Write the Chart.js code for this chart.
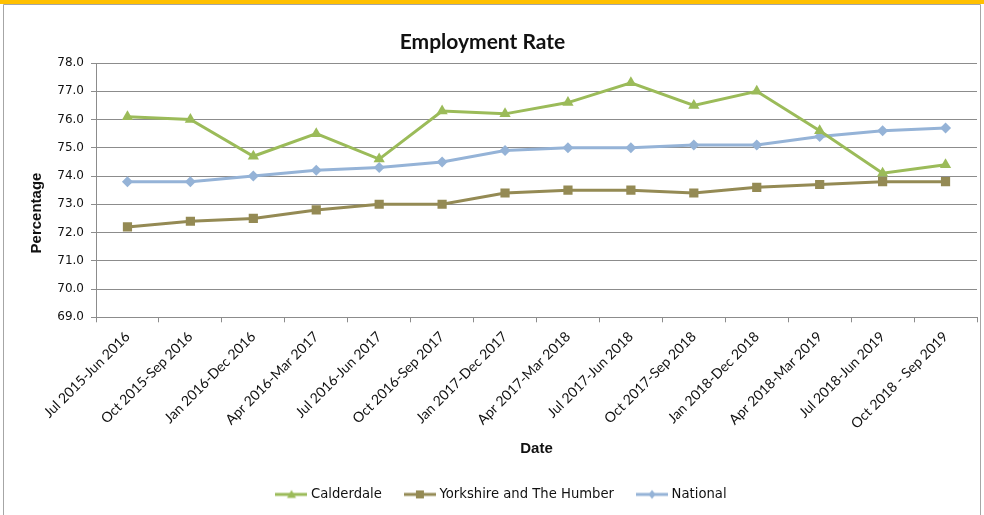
<!DOCTYPE html>
<html>
<head>
<meta charset="utf-8">
<script src="https://cdn.jsdelivr.net/npm/chart.js@4.4.1/dist/chart.umd.min.js"></script>
<style>
  html, body { margin:0; padding:0; background:#fff; }
  #wrap { width:984px; height:515px; position:relative; }
</style>
</head>
<body>
<div id="wrap"><canvas id="chart"></canvas></div>
<script>
// ── data ──────────────────────────────────────────────
const periods = [
  'Jul 2015-Jun 2016', 'Oct 2015-Sep 2016', 'Jan 2016-Dec 2016', 'Apr 2016-Mar 2017',
  'Jul 2016-Jun 2017', 'Oct 2016-Sep 2017', 'Jan 2017-Dec 2017', 'Apr 2017-Mar 2018',
  'Jul 2017-Jun 2018', 'Oct 2017-Sep 2018', 'Jan 2018-Dec 2018', 'Apr 2018-Mar 2019',
  'Jul 2018-Jun 2019', 'Oct 2018 - Sep 2019'
];
const calderdale = [76.1, 76.0, 74.7, 75.5, 74.6, 76.3, 76.2, 76.6, 77.3, 76.5, 77.0, 75.6, 74.1, 74.4];
const yorkshire  = [72.2, 72.4, 72.5, 72.8, 73.0, 73.0, 73.4, 73.5, 73.5, 73.4, 73.6, 73.7, 73.8, 73.8];
const national   = [73.8, 73.8, 74.0, 74.2, 74.3, 74.5, 74.9, 75.0, 75.0, 75.1, 75.1, 75.4, 75.6, 75.7];
const yMin = 69, yMax = 78, yStep = 1;

const C = { green:'#9bbb59', olive:'#948a54', blue:'#95b3d7', grid:'#8c8c8c', text:'#111' };
const TITLE_FONT = "Lato, 'Open Sans', sans-serif";
const AXIS_FONT = "'Liberation Sans', Arial, sans-serif";
const TICK_FONT = "'DejaVu Sans', Verdana, sans-serif";

// legend swatch: short line with the marker in the middle
function swatch(color, style) {
  const c = document.createElement('canvas');
  c.width = 32; c.height = 12;
  const g = c.getContext('2d');
  g.strokeStyle = color; g.fillStyle = color; g.lineWidth = 3;
  g.beginPath(); g.moveTo(0, 6); g.lineTo(32, 6); g.stroke();
  g.beginPath();
  if (style === 'triangle') { g.moveTo(16, 1.5); g.lineTo(20.5, 9.5); g.lineTo(11.5, 9.5); }
  else if (style === 'rect') { g.rect(12, 2, 8, 8); }
  else { g.moveTo(16, 1.5); g.lineTo(19.5, 6); g.lineTo(16, 10.5); g.lineTo(12.5, 6); }
  g.closePath(); g.fill();
  return c;
}

// outer frame, title nudge and the y-axis title (Excel puts it lower than centre)
const frame = {
  id: 'frame',
  beforeDraw(chart) {
    const g = chart.ctx;
    g.save();
    g.fillStyle = '#fff'; g.fillRect(0, 0, chart.width, chart.height);
    g.fillStyle = '#ffc000'; g.fillRect(0, 0, chart.width, 4);
    g.strokeStyle = '#a6a6a6'; g.lineWidth = 1;
    g.beginPath();
    g.moveTo(3.5, 4.5); g.lineTo(980.5, 4.5);
    g.moveTo(3.5, 4.5); g.lineTo(3.5, chart.height);
    g.moveTo(980.5, 4.5); g.lineTo(980.5, chart.height);
    g.stroke();
    g.restore();
  },
  afterLayout(chart) {
    const t = chart.titleBlock;
    if (t) { t.left -= 20; t.right -= 20; }
  },
  afterDraw(chart) {
    const g = chart.ctx;
    g.save();
    g.translate(37, 213);
    g.rotate(-Math.PI / 2);
    g.font = "bold 15px " + AXIS_FONT;
    g.fillStyle = C.text; g.textAlign = 'center'; g.textBaseline = 'middle';
    g.fillText('Percentage', 0, 0);
    g.restore();
  }
};

function line(label, data, color, style, radius) {
  return { label, data, borderColor:color, backgroundColor:color, borderWidth:3,
    pointStyle:style, pointRadius:radius, pointBorderWidth:0, pointBackgroundColor:color,
    tension:0, _swatch: swatch(color, style) };
}

new Chart(document.getElementById('chart'), {
  type:'line',
  data:{ labels: periods, datasets:[
    line('Calderdale', calderdale, C.green, 'triangle', 6.5),
    line('Yorkshire and The Humber', yorkshire, C.olive, 'rect', 6.5),
    line('National', national, C.blue, 'rectRot', 5.5)
  ]},
  plugins:[frame],
  options:{
    responsive:true, maintainAspectRatio:false, animation:false, devicePixelRatio:1,
    layout:{ padding:{ left:28, right:7, top:0, bottom:4 } },
    plugins:{
      title:{ display:true, text:'Employment Rate', color:C.text,
        font:{ family:TITLE_FONT, size:21, weight:'bold' }, padding:{ top:29.4, bottom:8.4 } },
      legend:{ position:'bottom',
        labels:{ usePointStyle:true, pointStyleWidth:26, color:C.text, padding:25,
          font:{ family:TICK_FONT, size:13.2 },
          generateLabels(chart) {
            const items = Chart.defaults.plugins.legend.labels.generateLabels(chart);
            items.forEach(it => { it.pointStyle = chart.data.datasets[it.datasetIndex]._swatch; });
            return items;
          } } },
      tooltip:{ enabled:false }
    },
    scales:{
      x:{ offset:true,
        grid:{ offset:true, drawOnChartArea:false, drawTicks:true, tickLength:5, color:C.grid },
        border:{ color:C.grid },
        ticks:{ minRotation:45, maxRotation:45, color:C.text, autoSkip:false, padding:6, labelOffset:0,
          font:{ family:TITLE_FONT, size:14 } },
        title:{ display:true, text:'Date', color:C.text, font:{ family:AXIS_FONT, size:15, weight:'bold' },
          padding:{ top:4, bottom:4.5 } },
        afterFit(s) { s.height = 145.5; } },
      y:{ min:yMin, max:yMax,
        grid:{ color:C.grid, tickLength:5 },
        border:{ color:C.grid },
        ticks:{ stepSize:yStep, color:C.text, padding:7, font:{ family:TICK_FONT, size:12 },
          callback: v => v.toFixed(1) },
        title:{ display:false },
        afterFit(s) { s.width = 68; } }
    }
  }
});
</script>
</body>
</html>
